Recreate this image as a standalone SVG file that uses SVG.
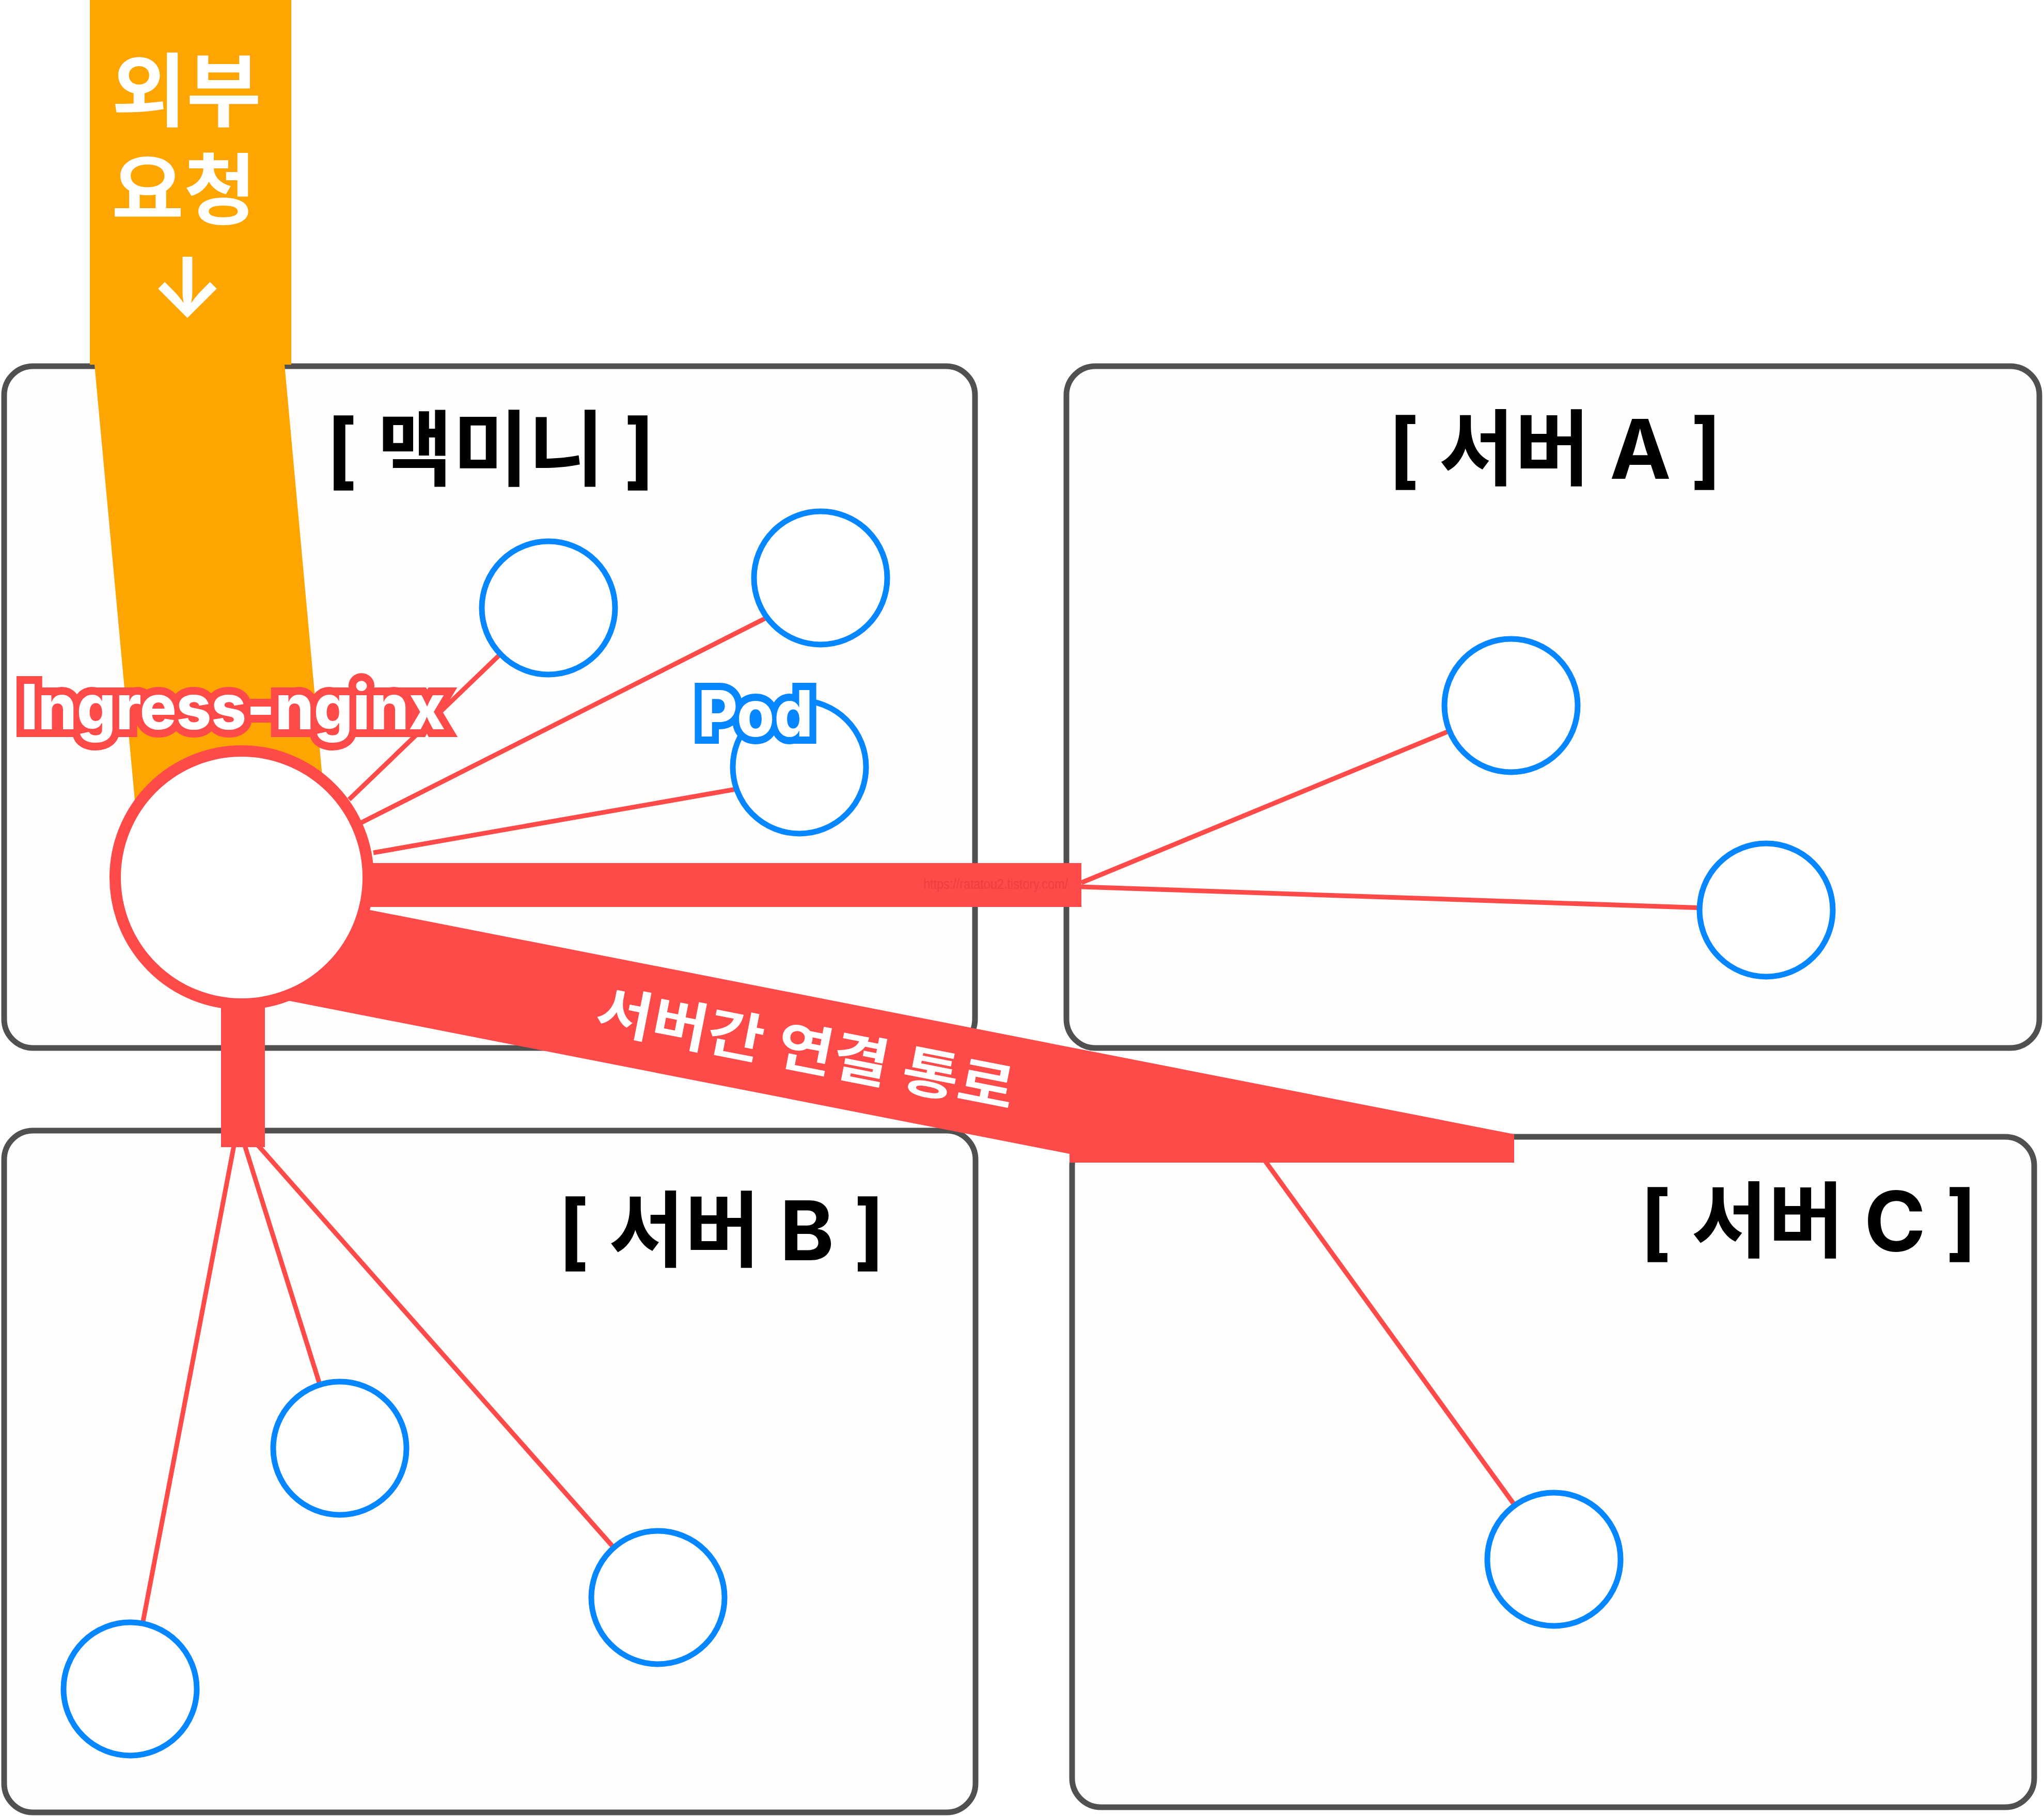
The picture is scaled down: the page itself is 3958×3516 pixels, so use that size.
<svg xmlns="http://www.w3.org/2000/svg" width="3958" height="3516" viewBox="0 0 3958 3516">
<style>
.box{fill:#FFFEFC;stroke:#505050;stroke-width:11}
.title{font-family:Inter,"Noto Sans CJK KR",sans-serif;font-weight:700;font-size:160px;fill:#000;text-anchor:middle}
.wire{stroke:#FF4A4A;stroke-width:9;fill:none}
.red{fill:#FF4A4A}
.pod{fill:#FFFFFF;stroke:#0787FF;stroke-width:11}
.lbl{font-family:Inter,"Noto Sans CJK KR",sans-serif;font-weight:800;fill:#FFFFFF;paint-order:stroke;stroke-linejoin:miter}
.kr{font-family:Inter,"Noto Sans CJK KR",sans-serif;font-weight:700;fill:#FFFFFF;text-anchor:middle}
</style>
<rect x="0" y="0" width="3958" height="3516" fill="#FFFFFF"/>

<g id="server-macmini">
<rect class="box" x="8" y="709" width="1880" height="1320" rx="56"/>
<text class="title" x="950" y="928" textLength="636" lengthAdjust="spacingAndGlyphs">[ 맥미니 ]</text>
</g>
<g id="server-a">
<rect class="box" x="2065" y="709" width="1884" height="1320" rx="56"/>
<text class="title" x="3011" y="927" textLength="645" lengthAdjust="spacingAndGlyphs">[ 서버 A ]</text>
</g>
<g id="server-b">
<rect class="box" x="8" y="2189" width="1881" height="1320" rx="56"/>
<text class="title" x="1397" y="2440" textLength="632" lengthAdjust="spacingAndGlyphs">[ 서버 B ]</text>
</g>
<g id="server-c">
<rect class="box" x="2076" y="2201" width="1863" height="1298" rx="56"/>
<text class="title" x="3502" y="2422" textLength="652" lengthAdjust="spacingAndGlyphs">[ 서버 C ]</text>
</g>

<g id="external-request">
<rect x="174" y="0" width="390" height="706" fill="#FFA502"/>
<polygon points="183,706 551,706 642,1700 275,1700" fill="#FFA502"/>
<text class="kr" x="361" y="232" font-size="155" textLength="290" lengthAdjust="spacingAndGlyphs">외부</text>
<text class="kr" x="356" y="422" font-size="150" textLength="280" lengthAdjust="spacingAndGlyphs">요청</text>
<text class="kr" x="363" y="613" font-size="160" font-weight="600">↓</text>
</g>

<g id="connectors">
<rect class="red" x="600" y="1671" width="1494" height="85"/>
<text x="1928" y="1721" font-family="'Liberation Sans Narrow','Liberation Sans',sans-serif" font-size="28" fill="#EE3E3E" text-anchor="middle" textLength="280" lengthAdjust="spacingAndGlyphs">https://ratatou2.tistory.com/</text>
<polygon class="red" points="600,1739 2932,2196 2932,2251 2071,2251 2071,2234 470,1920"/>
<rect class="red" x="428" y="1800" width="85" height="421"/>
<line class="wire" x1="676" y1="1548" x2="1062" y2="1177"/>
<line class="wire" x1="699" y1="1593" x2="1500" y2="1188"/>
<line class="wire" x1="723" y1="1651" x2="1430" y2="1527"/>
<line class="wire" x1="2094" y1="1709" x2="2926" y2="1366"/>
<line class="wire" x1="2094" y1="1717" x2="3420" y2="1762"/>
<line class="wire" x1="453" y1="2218" x2="252" y2="3270"/>
<line class="wire" x1="474" y1="2218" x2="658" y2="2804"/>
<line class="wire" x1="500" y1="2218" x2="1274" y2="3093"/>
<line class="wire" x1="2450" y1="2248" x2="3009" y2="3019"/>
<text transform="translate(1560,2031) rotate(11.1)" class="kr" x="0" y="38" font-size="104" textLength="822" lengthAdjust="spacingAndGlyphs">서버간 연결 통로</text>
</g>

<g id="ingress-nginx">
<circle cx="468" cy="1699" r="245" fill="#FFFFFF" stroke="#FF4A4A" stroke-width="22"/>
</g>

<g id="pod-m1"><circle class="pod" cx="1062" cy="1177" r="129"/></g>
<g id="pod-m2"><circle class="pod" cx="1589" cy="1119" r="129"/></g>
<g id="pod-m3"><circle class="pod" cx="1548" cy="1485" r="129"/></g>
<g id="pod-a1"><circle class="pod" cx="2926" cy="1366" r="129"/></g>
<g id="pod-a2"><circle class="pod" cx="3420" cy="1762" r="129"/></g>
<g id="pod-b1"><circle class="pod" cx="658" cy="2804" r="129"/></g>
<g id="pod-b2"><circle class="pod" cx="1274" cy="3093" r="129"/></g>
<g id="pod-b3"><circle class="pod" cx="252" cy="3270" r="129"/></g>
<g id="pod-c1"><circle class="pod" cx="3009" cy="3019" r="129"/></g>

<g id="label-ingress">
<text class="lbl" x="40" y="1412" font-size="121" stroke="#FF4A4A" stroke-width="30" textLength="822" lengthAdjust="spacingAndGlyphs">Ingress-nginx</text>
</g>
<g id="label-pod">
<text class="lbl" x="1352" y="1426" font-size="124" stroke="#0787FF" stroke-width="28" textLength="222" lengthAdjust="spacingAndGlyphs">Pod</text>
</g>
</svg>
